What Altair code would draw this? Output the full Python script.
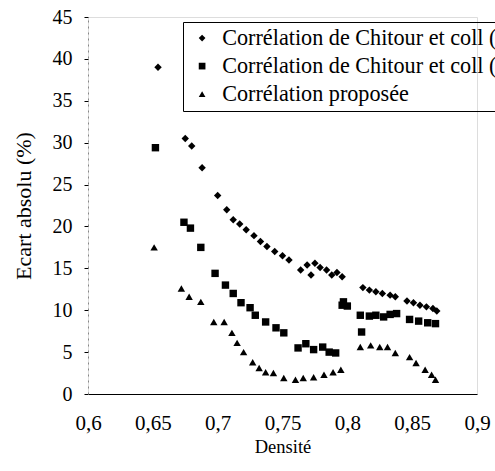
import altair as alt
import pandas as pd

# Series names (the two Chitour labels are cut off in the original; a trailing space keeps them distinct)
name1 = "Corrélation de Chitour et coll ("
name2 = "Corrélation de Chitour et coll ( "
name3 = "Corrélation proposée"

dens1 = [0.654, 0.675, 0.680, 0.688, 0.700, 0.707, 0.712, 0.717, 0.722, 0.728, 0.733, 0.738,
         0.744, 0.750, 0.755, 0.764, 0.769, 0.772, 0.775, 0.779, 0.784, 0.788, 0.792, 0.796,
         0.812, 0.817, 0.822, 0.827, 0.833, 0.837, 0.846, 0.851, 0.856, 0.861, 0.866, 0.869]
val1 = [39.0, 30.5, 29.6, 27.0, 23.7, 22.0, 20.8, 20.3, 19.6, 18.9, 18.2, 17.6,
        17.0, 16.5, 16.0, 14.8, 15.4, 14.2, 15.6, 15.1, 14.8, 14.2, 14.5, 14.0,
        12.7, 12.4, 12.2, 12.0, 11.8, 11.6, 11.1, 10.9, 10.6, 10.4, 10.2, 9.9]

dens2 = [0.652, 0.674, 0.679, 0.687, 0.698, 0.706, 0.712, 0.718, 0.725, 0.729, 0.737, 0.745,
         0.751, 0.762, 0.768, 0.774, 0.781, 0.786, 0.791, 0.796, 0.797, 0.800, 0.810, 0.811,
         0.817, 0.822, 0.828, 0.833, 0.838, 0.848, 0.855, 0.862, 0.868]
val2 = [29.4, 20.5, 19.8, 17.5, 14.4, 13.0, 12.0, 10.9, 10.3, 9.4, 8.6, 7.9,
        7.3, 5.5, 6.0, 5.3, 5.6, 5.0, 4.9, 10.6, 11.0, 10.5, 9.4, 7.4,
        9.3, 9.4, 9.2, 9.5, 9.6, 8.9, 8.7, 8.5, 8.4]

dens3 = [0.651, 0.672, 0.678, 0.687, 0.697, 0.705, 0.711, 0.715, 0.720, 0.727, 0.732, 0.737,
         0.743, 0.751, 0.760, 0.766, 0.774, 0.782, 0.789, 0.795, 0.810, 0.818, 0.825, 0.831,
         0.837, 0.848, 0.853, 0.860, 0.865, 0.868]
val3 = [17.5, 12.6, 11.6, 11.0, 8.6, 8.6, 7.3, 6.1, 5.0, 3.8, 3.1, 2.6,
        2.5, 1.9, 1.7, 1.9, 2.0, 2.3, 2.6, 2.9, 5.6, 5.8, 5.6, 5.6,
        4.9, 4.4, 3.7, 2.9, 2.3, 1.7]

x_ticks = [0.6, 0.65, 0.7, 0.75, 0.8, 0.85, 0.9]
y_ticks = [0, 5, 10, 15, 20, 25, 30, 35, 40, 45]

df = pd.concat([
    pd.DataFrame({"Densité": dens1, "Ecart": val1, "serie": name1}),
    pd.DataFrame({"Densité": dens2, "Ecart": val2, "serie": name2}),
    pd.DataFrame({"Densité": dens3, "Ecart": val3, "serie": name3}),
], ignore_index=True)

FONT = "'Liberation Serif', 'Times New Roman', Times, serif"

chart = alt.Chart(df).mark_point(filled=True, opacity=1, color="black").encode(
    x=alt.X("Densité:Q",
            scale=alt.Scale(domain=[0.6, 0.9], nice=False, zero=False),
            axis=alt.Axis(title="Densité", values=x_ticks,
                          labelExpr="replace(format(datum.value, '.2~f'), '.', ',')",
                          ticks=False, labelPadding=18, grid=False, labelFlush=False,
                          domainColor="black", domainWidth=1.2,
                          labelFont=FONT, labelFontSize=21, labelColor="black",
                          titleFont=FONT, titleFontSize=18.5, titleFontWeight="normal",
                          titleColor="black", titlePadding=4)),
    y=alt.Y("Ecart:Q",
            scale=alt.Scale(domain=[0, 45], nice=False),
            axis=alt.Axis(title="Ecart absolu (%)", values=y_ticks, grid=False,
                          tickSize=4, tickColor="black", labelPadding=12, labelFlush=False,
                          domainColor="#888888", domainDash=[2, 4],
                          labelFont=FONT, labelFontSize=20, labelColor="black",
                          titleFont=FONT, titleFontSize=22, titleFontWeight="normal",
                          titleColor="black", titlePadding=17)),
    shape=alt.Shape("serie:N",
                    scale=alt.Scale(domain=[name1, name2, name3],
                                    range=["diamond", "square", "triangle-up"]),
                    legend=alt.Legend(title=None, orient="none", legendX=95, legendY=5,
                                      strokeColor="black", padding=5, rowPadding=5,
                                      symbolFillColor="black", symbolStrokeColor="black",
                                      symbolSize=45, symbolOffset=3, labelOffset=9,
                                      labelFont=FONT, labelFontSize=22.2, labelColor="black",
                                      labelLimit=600)),
    size=alt.value(55),
).properties(
    width=389, height=377,
    autosize=alt.AutoSizeParams(type="none"),
    padding={"left": 88, "top": 17, "right": 18, "bottom": 77},
).configure_view(stroke=None).configure(background="white")

chart.save("out.html", embed_options={"renderer": "svg", "actions": False})
